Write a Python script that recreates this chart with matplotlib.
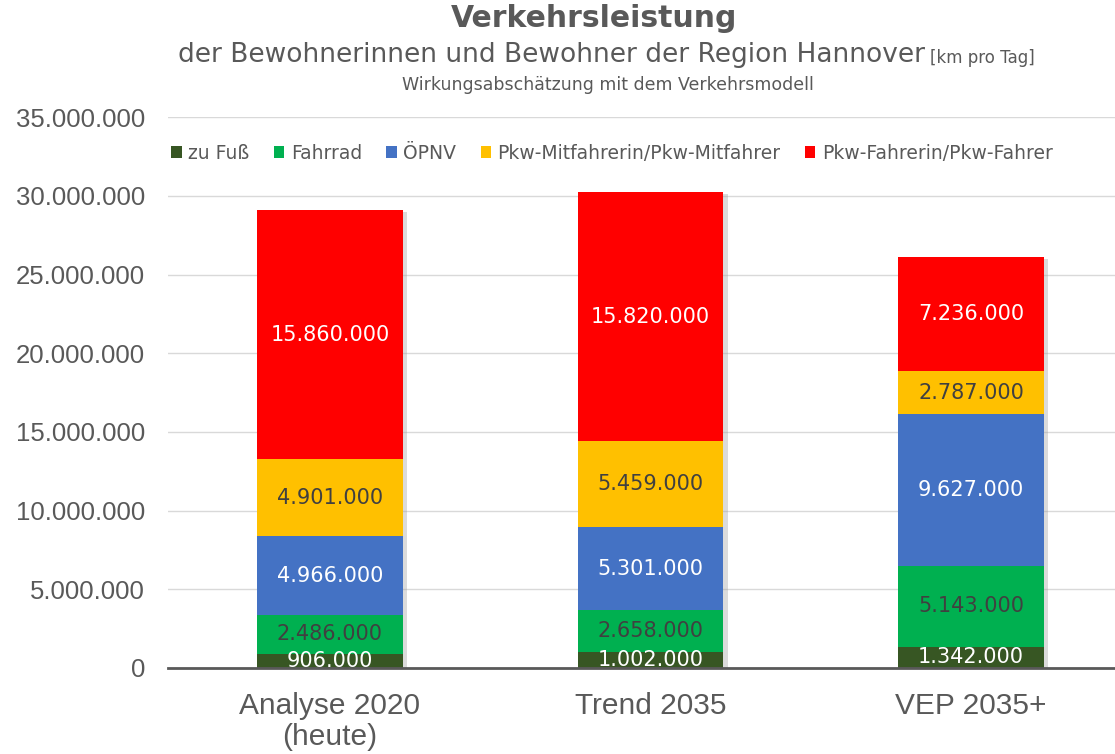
import matplotlib
matplotlib.use("Agg")
import matplotlib.pyplot as plt
import matplotlib.patheffects as pe
import numpy as np
from matplotlib.patches import Patch

categories = ["Analyse 2020\n(heute)", "Trend 2035", "VEP 2035+"]
series_names = ["zu Fuß", "Fahrrad", "ÖPNV", "Pkw-Mitfahrerin/Pkw-Mitfahrer", "Pkw-Fahrerin/Pkw-Fahrer"]
zu_fuss = [906000, 1002000, 1342000]
fahrrad = [2486000, 2658000, 5143000]
oepnv = [4966000, 5301000, 9627000]
mitfahrer = [4901000, 5459000, 2787000]
fahrer = [15860000, 15820000, 7236000]
yticks = [0, 5000000, 10000000, 15000000, 20000000, 25000000, 30000000, 35000000]

colors = ["#375623", "#00B050", "#4472C4", "#FFC000", "#FF0000"]
label_colors = ["white", "#404040", "white", "#404040", "white"]
dv = ["DejaVu Sans"]
arial = ["Liberation Sans", "DejaVu Sans"]
grey = "#595959"

def fmt(v):
    return f"{v:,.0f}".replace(",", ".")

fig = plt.figure(figsize=(11.15, 7.54), dpi=100)
ax = fig.add_axes([0.1507, 0.1141, 0.8493, 0.7304])

x = np.arange(len(categories))
data = [zu_fuss, fahrrad, oepnv, mitfahrer, fahrer]
totals = np.sum(np.array(data, dtype=float), axis=0)
W = 0.455

# soft shadow behind each full stack
ax.bar(x, totals, width=W, color="white", zorder=2,
       path_effects=[pe.SimplePatchShadow(offset=(3, -1.5), shadow_rgbFace="#9a9a9a", alpha=0.35),
                     pe.Normal()])

bottom = np.zeros(len(categories))
for vals, col, lc, name in zip(data, colors, label_colors, series_names):
    vals = np.array(vals, dtype=float)
    ax.bar(x, vals, width=W, bottom=bottom, color=col, zorder=3, label=name)
    for xi, b, v in zip(x, bottom, vals):
        ax.text(xi, b + v / 2, fmt(v), ha="center", va="center", color=lc,
                fontsize=15, family=dv, zorder=4)
    bottom += vals

ax.set_xlim(-0.505, 2.449)
ax.set_ylim(0, 35000000)
ax.set_yticks(yticks)
ax.set_yticklabels([fmt(v) for v in yticks], family=arial, fontsize=18.5, color=grey)
ax.set_xticks(x)
ax.set_xticklabels(categories, family=arial, fontsize=21.5, color=grey, linespacing=1.15)
ax.tick_params(axis="both", length=0)
ax.tick_params(axis="y", pad=16.5)
ax.tick_params(axis="x", pad=17)
ax.grid(axis="y", color="#D9D9D9", linewidth=1, zorder=0)
for s in ["top", "right", "left"]:
    ax.spines[s].set_visible(False)
ax.spines["bottom"].set_color(grey)
ax.spines["bottom"].set_linewidth(2)
ax.spines["bottom"].set_zorder(5)

handles = [Patch(facecolor=c) for c in colors]
leg = ax.legend(handles, series_names, loc="center", bbox_to_anchor=(0.469, 0.935), ncol=5,
                frameon=False, prop={"family": dv, "size": 13.5}, handlelength=0.55,
                handleheight=0.55, handletextpad=0.35, columnspacing=1.3)
for t in leg.get_texts():
    t.set_color(grey)

fig.text(0.533, 0.975, "Verkehrsleistung", ha="center", va="center", fontsize=21.5,
         fontweight="bold", color=grey, family=dv)
fig.text(0.16, 0.927, "der Bewohnerinnen und Bewohner der Region Hannover", ha="left",
         va="center", fontsize=19, color=grey, family=dv)
fig.text(0.834, 0.923, "[km pro Tag]", ha="left", va="center", fontsize=12,
         color=grey, family=dv)
fig.text(0.545, 0.887, "Wirkungsabschätzung mit dem Verkehrsmodell", ha="center",
         va="center", fontsize=12.5, color=grey, family=dv)

fig.savefig("out.png", dpi=100)
